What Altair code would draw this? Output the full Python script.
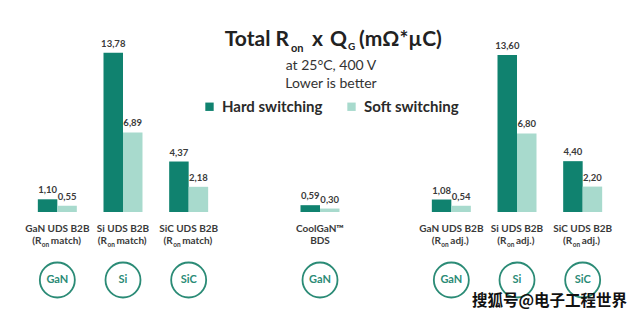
import altair as alt
import pandas as pd

# ---------------- data ----------------
groups = ["GaN match", "Si match", "SiC match", "CoolGaN", "GaN adj", "Si adj", "SiC adj"]
slots = ["GaN match", "Si match", "SiC match", "spacer1", "CoolGaN", "spacer2",
         "GaN adj", "Si adj", "SiC adj"]
hard = [1.10, 13.78, 4.37, 0.59, 1.08, 13.60, 4.40]
soft = [0.55, 6.89, 2.18, 0.30, 0.54, 6.80, 2.20]
line1 = ["GaN UDS B2B", "Si UDS B2B", "SiC UDS B2B", "CoolGaN™",
         "GaN UDS B2B", "Si UDS B2B", "SiC UDS B2B"]
line2 = ["match)", "match)", "match)", "BDS", "adj.)", "adj.)", "adj.)"]
rtype = ["match", "match", "match", "plain", "adj", "adj", "adj"]
material = ["GaN", "Si", "SiC", "GaN", "GaN", "Si", "SiC"]
series = ["Hard switching", "Soft switching"]
colors = ["#10826f", "#a8dacd"]

rows = []
for g, h, s in zip(groups, hard, soft):
    rows.append({"group": g, "series": series[0], "value": h})
    rows.append({"group": g, "series": series[1], "value": s})
df = pd.DataFrame(rows)
df["label"] = df["value"].map(lambda v: f"{v:.2f}".replace(".", ","))

info = pd.DataFrame({"group": groups, "line1": line1, "line2": line2,
                     "rtype": rtype, "material": material})

FONT = "Lato"
TEXT = "#3a3a3a"
TEAL = "#2b8b76"
LBL = 10

xscale = alt.Scale(domain=slots, paddingInner=0, paddingOuter=0.373)
X = alt.X("group:N", scale=xscale, axis=None)
yscale = alt.Scale(domain=[0, 18.35], nice=False, zero=True)
offscale = alt.Scale(domain=series, paddingInner=0, paddingOuter=0.684)

base = alt.Chart(df)

bars = base.mark_bar().encode(
    x=X,
    xOffset=alt.XOffset("series:N", scale=offscale),
    y=alt.Y("value:Q", scale=yscale, axis=None),
    color=alt.Color(
        "series:N",
        scale=alt.Scale(domain=series, range=colors),
        legend=alt.Legend(
            orient="none", legendX=202, legendY=99, direction="horizontal",
            title=None, symbolType="square", symbolSize=70, symbolStrokeWidth=0,
            labelFontSize=15, labelFont=FONT, labelFontWeight="bold",
            labelColor="#2a2a2a", columnPadding=21, labelOffset=5, padding=0,
        ),
    ),
)

vals = base.mark_text(
    baseline="bottom", dy=-4, font=FONT, fontSize=9.5, fontWeight="bold", color=TEXT
).encode(
    x=X,
    xOffset=alt.XOffset("series:N", scale=offscale),
    y=alt.Y("value:Q", scale=yscale),
    text="label:N",
)

ib = alt.Chart(info)
lab1 = ib.mark_text(font=FONT, fontSize=LBL, fontWeight="bold", color=TEXT,
                    baseline="alphabetic").encode(x=X, y=alt.value(232), text="line1:N")

plain2 = ib.transform_filter(alt.datum.rtype == "plain").mark_text(
    font=FONT, fontSize=LBL, fontWeight="bold", color=TEXT, baseline="alphabetic"
).encode(x=X, y=alt.value(244), text="line2:N")


def ron_label(kind, off):
    sub = ib.transform_filter(alt.datum.rtype == kind)
    pre = sub.transform_calculate(t="'(R'").mark_text(
        font=FONT, fontSize=LBL, fontWeight="bold", color=TEXT, align="right",
        baseline="alphabetic", dx=off
    ).encode(x=X, y=alt.value(244), text="t:N")
    on = sub.transform_calculate(t="'on'").mark_text(
        font=FONT, fontSize=6.5, fontWeight="bold", color=TEXT, align="left",
        baseline="alphabetic", dx=off + 0.5
    ).encode(x=X, y=alt.value(247), text="t:N")
    post = sub.mark_text(
        font=FONT, fontSize=LBL, fontWeight="bold", color=TEXT, align="left",
        baseline="alphabetic", dx=off + 9.5
    ).encode(x=X, y=alt.value(244), text="line2:N")
    return pre + on + post


circles = ib.mark_point(shape="circle", size=1225, filled=False, color=TEAL,
                        strokeWidth=1.8, opacity=1).encode(x=X, y=alt.value(280))
circ_txt = ib.mark_text(font=FONT, fontSize=11, fontWeight="bold", color=TEAL,
                        baseline="middle").encode(x=X, y=alt.value(280), text="material:N")


# ---------------- title pieces ----------------
def txt(s, x, y, size, align="left", weight="bold", color="#222222", font=FONT):
    return alt.Chart(pd.DataFrame({"t": [s]})).mark_text(
        font=font, fontSize=size, fontWeight=weight, color=color, align=align,
        baseline="alphabetic"
    ).encode(x=alt.value(x), y=alt.value(y), text="t:N")


title = (
    txt("Total R", 289, 46, 21, align="right")
    + txt("on", 291, 52, 11)
    + txt("x", 312, 46, 21)
    + txt("Q", 347, 46, 21, align="right")
    + txt("G", 348, 50, 10)
    + txt("(mΩ*µC)", 359, 46, 21)
    + txt("at 25°C, 400 V", 331, 70, 14, align="center", weight="normal", color="#333333")
    + txt("Lower is better", 331, 88, 14, align="center", weight="normal", color="#333333")
    + txt("搜狐号@电子工程世界", 472, 306, 15.5, weight="bold", color="#111111",
          font="Noto Sans CJK SC")
)

chart = alt.layer(
    bars, vals, lab1, plain2, ron_label("match", -16), ron_label("adj", -10.5),
    circles, circ_txt, title
).properties(
    width=640, height=212,
    autosize=alt.AutoSizeParams(type="none"),
    padding={"left": 0, "right": 0, "top": 0, "bottom": 103},
    background="white",
).configure_view(stroke=None)

chart.save("out.html", embed_options={"renderer": "svg", "actions": False})
